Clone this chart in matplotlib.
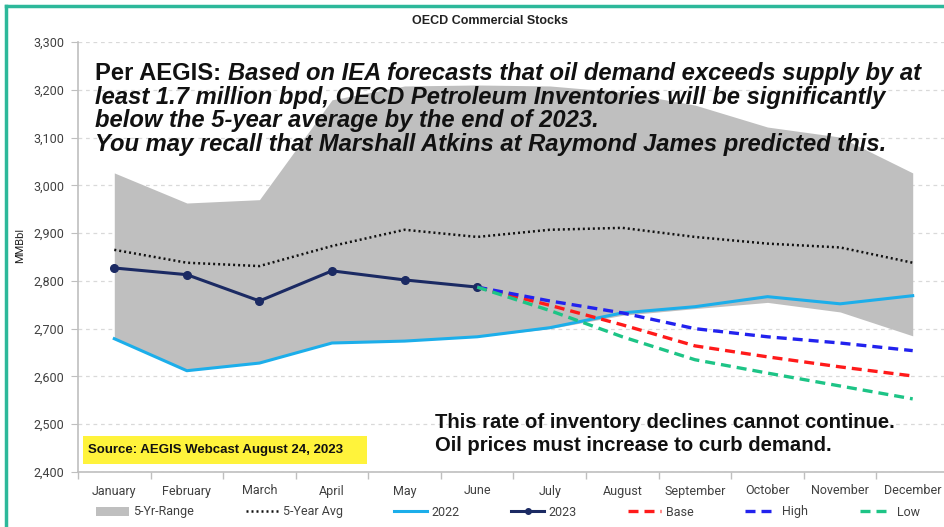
import numpy as np
import matplotlib
matplotlib.use("Agg")
import matplotlib.pyplot as plt
from matplotlib.patches import Patch, Rectangle
from matplotlib.lines import Line2D

months = ['January', 'February', 'March', 'April', 'May', 'June', 'July',
          'August', 'September', 'October', 'November', 'December']
range_high = [3026, 2963, 2970, 3179, 3208, 3210, 3208, 3195, 3168, 3122, 3101, 3026]
range_low = [2679, 2612, 2628, 2670, 2674, 2683, 2700, 2728, 2742, 2755, 2735, 2685]
avg5 = [2865, 2838, 2831, 2873, 2907, 2892, 2907, 2911, 2892, 2878, 2870, 2838]
y2022 = [2679, 2612, 2628, 2670, 2674, 2683, 2702, 2733, 2746, 2767, 2752, 2769]
y2023 = [2827, 2813, 2758, 2821, 2802, 2787, np.nan, np.nan, np.nan, np.nan, np.nan, np.nan]
base = [np.nan] * 5 + [2787, 2749, 2708, 2664, 2641, 2620, 2601]
high = [np.nan] * 5 + [2787, 2758, 2733, 2700, 2683, 2670, 2654]
low = [np.nan] * 5 + [2787, 2738, 2683, 2635, 2607, 2580, 2553]
yticks = [2400, 2500, 2600, 2700, 2800, 2900, 3000, 3100, 3200, 3300]

W, H = 945, 527
fig = plt.figure(figsize=(W / 100, H / 100), dpi=100)
ax = fig.add_axes([78 / W, 1 - 472 / H, (949 - 78) / W, (472 - 42) / H])

x = np.arange(len(months))
c_range = '#BFBFBF'
c22 = '#1CAEEA'
c23 = '#1B2A63'

ax.fill_between(x, range_low, range_high, color=c_range, lw=0, zorder=1)
ax.plot(x, avg5, color='#111111', lw=1.8, ls=(0, (0.8, 1.2)), zorder=3)
ax.plot(x, y2022, color=c22, lw=2.2, zorder=4)
ax.plot(x, y2023, color=c23, lw=2.2, marker='o', ms=5.5, zorder=5)
ax.plot(x, base, color='#FF1A1A', lw=2.4, ls=(0, (3, 1.8)), zorder=6)
ax.plot(x, high, color='#2222EE', lw=2.4, ls=(0, (3, 1.8)), zorder=6)
ax.plot(x, low, color='#1DC486', lw=2.4, ls=(0, (3, 1.8)), zorder=6)

ax.set_xlim(-0.5, 11.5)
ax.set_ylim(2400, 3300)
ax.set_yticks(yticks)
ax.set_yticklabels([f"{v:,}" for v in yticks])
ax.set_xticks(x)
ax.set_xticklabels(months)
ax.set_xticks(np.arange(-0.5, 12, 1), minor=True)
ax.tick_params(axis='x', which='major', length=0, pad=9, labelsize=9, labelcolor='#404040')
ax.tick_params(axis='x', which='minor', length=5, color='#BFBFBF', width=1)
ax.tick_params(axis='y', length=5, color='#BFBFBF', pad=5, labelsize=9, labelcolor='#404040')
for lab in ax.get_xticklabels() + ax.get_yticklabels():
    lab.set_family('Roboto')
ax.grid(axis='y', color='#D9D9D9', lw=0.9, ls=(0, (3, 3)), zorder=0)
ax.set_axisbelow(True)
for s in ['top', 'right']:
    ax.spines[s].set_visible(False)
ax.spines['left'].set_color('#BFBFBF')
ax.spines['bottom'].set_color('#BFBFBF')
ax.spines['left'].set_linewidth(1.2)
ax.spines['bottom'].set_linewidth(1.2)

fig.text(20 / W, 1 - 245 / H, 'MMBbl', rotation=90, ha='center', va='center',
         fontsize=8, family='Roboto', color='#222222')

fig.text(490 / W, 1 - 21 / H, 'OECD Commercial Stocks', ha='center', va='center',
         fontsize=9, fontweight='bold', family='Liberation Sans', color='#222222')

fs = 17.1
fam = 'Liberation Sans'
t1 = fig.text(95 / W, 1 - 80 / H, 'Per AEGIS: ', fontsize=fs, fontweight='bold',
              family=fam, va='baseline', color='#111111')
fig.canvas.draw()
r = fig.canvas.get_renderer()
bb = t1.get_window_extent(r)
fig.text(bb.x1 / W, 1 - 80 / H,
         'Based on IEA forecasts that oil demand exceeds supply by at',
         fontsize=fs, fontweight='bold', fontstyle='italic', family=fam,
         va='baseline', color='#111111')
other = ['least 1.7 million bpd, OECD Petroleum Inventories will be significantly',
         'below the 5-year average by the end of 2023.',
         'You may recall that Marshall Atkins at Raymond James predicted this.']
for i, line in enumerate(other):
    fig.text(95 / W, 1 - (103.7 + 23.7 * i) / H, line, fontsize=fs, fontweight='bold',
             fontstyle='italic', family=fam, va='baseline', color='#111111')

fig.text(435 / W, 1 - 428 / H, 'This rate of inventory declines cannot continue.',
         fontsize=14.6, fontweight='bold', family=fam, va='baseline', color='#111111')
fig.text(435 / W, 1 - 451 / H, 'Oil prices must increase to curb demand.',
         fontsize=14.6, fontweight='bold', family=fam, va='baseline', color='#111111')

fig.add_artist(Rectangle((83 / W, 1 - 464 / H), (367 - 83) / W, (464 - 436) / H,
                         transform=fig.transFigure, facecolor='#FFF33B', edgecolor='none', zorder=2))
fig.text(88 / W, 1 - 450 / H, 'Source: AEGIS Webcast August 24, 2023', fontsize=9.5,
         fontweight='bold', family=fam, va='center', color='#111111', zorder=3)

handles = [Patch(facecolor=c_range, edgecolor='none'),
           Line2D([], [], color='#111111', lw=1.8, ls=(0, (0.8, 1.2))),
           Line2D([], [], color=c22, lw=2.2),
           Line2D([], [], color=c23, lw=2.2, marker='o', ms=4),
           Line2D([], [], color='#FF1A1A', lw=2.4, ls=(0, (3, 1.8))),
           Line2D([], [], color='#2222EE', lw=2.4, ls=(0, (3, 1.8))),
           Line2D([], [], color='#1DC486', lw=2.4, ls=(0, (3, 1.8)))]
labels = ['5-Yr-Range', '5-Year Avg', '2022', '2023', 'Base', 'High', 'Low']
leg = fig.legend(handles, labels, loc='center', bbox_to_anchor=(508 / W, 1 - 512 / H),
                 ncol=7, frameon=False, handlelength=2.6, handletextpad=0.4,
                 columnspacing=4.1, prop={'family': 'Roboto', 'size': 9})
for t in leg.get_texts():
    t.set_color('#404040')

# green border (left and top visible)
fig.add_artist(Line2D([6 / W, 6 / W], [0, 1 - 6 / H], transform=fig.transFigure,
                      color='#2DB89A', lw=2.5))
fig.add_artist(Line2D([6 / W, 1], [1 - 6 / H, 1 - 6 / H], transform=fig.transFigure,
                      color='#2DB89A', lw=2.5))

fig.savefig('out.png', dpi=100)
